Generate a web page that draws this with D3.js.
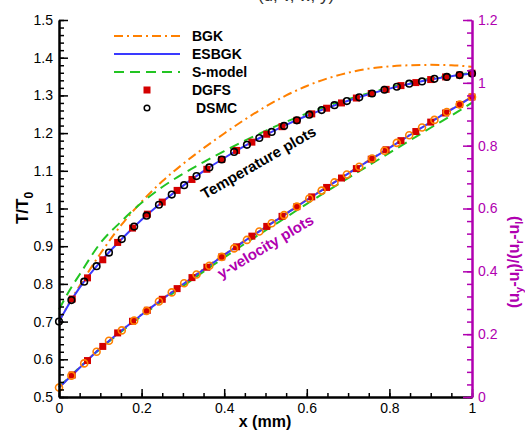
<!DOCTYPE html>
<html><head><meta charset="utf-8">
<script src="https://cdn.jsdelivr.net/npm/d3@7"></script>
<style>
body{margin:0;background:#fff;}
svg{font-family:"Liberation Sans",Arial,sans-serif;}
</style></head>
<body><svg id="c" width="525" height="432"></svg>
<script>
// ---------- data ----------
const lineX = [0,0.025,0.05,0.1,0.15,0.2,0.25,0.3,0.35,0.4,0.45,0.5,0.55,0.6,0.65,0.7,0.75,0.8,0.85,0.9,0.95,1.0];
const tempBGK   = [0.700,0.750,0.795,0.880,0.955,1.018,1.072,1.118,1.160,1.199,1.236,1.270,1.300,1.325,1.345,1.360,1.371,1.377,1.380,1.381,1.380,1.376];
const tempESBGK = [0.700,0.748,0.790,0.858,0.917,0.970,1.017,1.060,1.099,1.134,1.166,1.195,1.222,1.246,1.267,1.286,1.303,1.318,1.331,1.342,1.351,1.358];
const tempS     = [0.732,0.782,0.825,0.908,0.965,1.015,1.057,1.092,1.123,1.152,1.180,1.206,1.230,1.252,1.272,1.290,1.306,1.321,1.334,1.345,1.353,1.360];
const velBGK    = [0.031,0.062,0.094,0.156,0.211,0.263,0.312,0.360,0.407,0.453,0.498,0.541,0.584,0.628,0.670,0.712,0.753,0.794,0.835,0.876,0.916,0.956];
const velESBGK  = [0.030,0.061,0.093,0.155,0.210,0.262,0.311,0.359,0.406,0.452,0.497,0.540,0.583,0.627,0.669,0.711,0.752,0.793,0.834,0.875,0.915,0.955];
const velS      = [0.032,0.063,0.094,0.154,0.207,0.258,0.306,0.353,0.399,0.444,0.488,0.530,0.572,0.615,0.656,0.697,0.737,0.777,0.817,0.857,0.896,0.937];

const dsmcX = [0,0.03,0.061,0.091,0.121,0.152,0.182,0.212,0.242,0.273,0.303,0.333,0.364,0.394,0.424,0.455,0.485,0.515,0.545,0.576,0.606,0.636,0.667,0.697,0.727,0.758,0.788,0.818,0.848,0.879,0.909,0.939,0.97,1.0];
const dsmcT = [0.700,0.757,0.806,0.847,0.883,0.919,0.952,0.981,1.010,1.037,1.062,1.086,1.109,1.130,1.150,1.169,1.187,1.203,1.219,1.234,1.249,1.261,1.274,1.285,1.295,1.305,1.315,1.323,1.331,1.337,1.344,1.349,1.354,1.358];
const dsmcV = [0.030,0.068,0.107,0.144,0.179,0.212,0.243,0.274,0.304,0.333,0.362,0.390,0.418,0.446,0.473,0.500,0.527,0.553,0.579,0.606,0.632,0.657,0.683,0.708,0.733,0.759,0.784,0.809,0.833,0.858,0.882,0.907,0.931,0.955];

const dgfsX = [0.032,0.069,0.106,0.142,0.178,0.214,0.25,0.286,0.322,0.358,0.394,0.43,0.467,0.503,0.54,0.576,0.612,0.648,0.684,0.72,0.756,0.792,0.828,0.864,0.9,0.936,0.97,1.0];
const dgfsT = [0.760,0.816,0.864,0.910,0.948,0.985,1.017,1.048,1.077,1.104,1.130,1.154,1.176,1.197,1.217,1.234,1.251,1.266,1.280,1.293,1.305,1.316,1.326,1.334,1.342,1.349,1.354,1.359];
const dgfsV = [0.070,0.116,0.161,0.204,0.241,0.276,0.311,0.345,0.380,0.413,0.446,0.478,0.512,0.543,0.575,0.606,0.637,0.667,0.697,0.727,0.757,0.787,0.816,0.845,0.875,0.904,0.931,0.955];

const xTicks = [0,0.2,0.4,0.6,0.8,1];
const xTickLabels = ["0","0.2","0.4","0.6","0.8","1"];
const yTicks = [0.5,0.6,0.7,0.8,0.9,1.0,1.1,1.2,1.3,1.4,1.5];
const yTickLabels = ["0.5","0.6","0.7","0.8","0.9","1","1.1","1.2","1.3","1.4","1.5"];
const y2Ticks = [0,0.2,0.4,0.6,0.8,1.0,1.2];
const y2TickLabels = ["0","0.2","0.4","0.6","0.8","1","1.2"];
const legendLabels = ["BGK","ESBGK","S-model","DGFS","DSMC"];

// ---------- styles ----------
const C = {bgk:"#ff8000", es:"#3a3aff", s:"#22c422", red:"#d40000", mag:"#b000b0"};
const L = 59, R = 472, T = 20, B = 397;

const svg = d3.select("#c");
const x = d3.scaleLinear().domain([0,1]).range([L,R]);
const y = d3.scaleLinear().domain([0.5,1.5]).range([B,T]);
const y2 = d3.scaleLinear().domain([0,1.2]).range([B,T]);

// title remnant (cut off at top in the reference)
svg.append("text").attr("x",296).attr("y",1).attr("text-anchor","middle")
  .attr("font-size",17).attr("fill","#333").text("(u, v, w, y)");

// ---------- curves ----------
function drawLine(xs, ys, scale, color, dash){
  const data = xs.map((d,i)=>[d,ys[i]]);
  svg.append("path").datum(data)
    .attr("d", d3.line().x(d=>x(d[0])).y(d=>scale(d[1])).curve(d3.curveMonotoneX))
    .attr("fill","none").attr("stroke",color).attr("stroke-width",2)
    .attr("stroke-dasharray",dash||null);
}
const dashDot = "9,4,2,4", dashed = "10,6";
drawLine(lineX, velBGK, y2, C.bgk, dashDot);
drawLine(lineX, velS, y2, C.s, dashed);
drawLine(lineX, velESBGK, y2, C.es, null);
drawLine(lineX, tempBGK, y, C.bgk, dashDot);
drawLine(lineX, tempS, y, C.s, dashed);
drawLine(lineX, tempESBGK, y, C.es, null);

// ---------- markers ----------
const sq = 7;
svg.append("g").selectAll("rect").data(dgfsX.map((d,i)=>[d,dgfsV[i]])).join("rect")
  .attr("x",d=>x(d[0])-sq/2).attr("y",d=>y2(d[1])-sq/2).attr("width",sq).attr("height",sq).attr("fill",C.red);
svg.append("g").selectAll("circle").data(dsmcX.map((d,i)=>[d,dsmcV[i]])).join("circle")
  .attr("cx",d=>x(d[0])).attr("cy",d=>y2(d[1])).attr("r",3.5)
  .attr("fill","none").attr("stroke",C.bgk).attr("stroke-width",1.6);
svg.append("g").selectAll("rect").data(dgfsX.map((d,i)=>[d,dgfsT[i]])).join("rect")
  .attr("x",d=>x(d[0])-sq/2).attr("y",d=>y(d[1])-sq/2).attr("width",sq).attr("height",sq).attr("fill",C.red);
svg.append("g").selectAll("circle").data(dsmcX.map((d,i)=>[d,dsmcT[i]])).join("circle")
  .attr("cx",d=>x(d[0])).attr("cy",d=>y(d[1])).attr("r",3.3)
  .attr("fill","none").attr("stroke","#000").attr("stroke-width",1.6);

// ---------- axes ----------
function styleAxis(g, color, width){
  g.select(".domain").attr("stroke",color).attr("stroke-width",width);
  g.selectAll(".tick line").attr("stroke",color).attr("stroke-width",1.5);
  g.selectAll(".tick text").attr("fill",color).attr("font-size",14);
}
const xMinor = d3.range(0,1.0001,0.05);
const yMinor = d3.range(0.5,1.5001,0.02);
const y2Minor = d3.range(0,1.2001,0.04);

const gxm = svg.append("g").attr("transform",`translate(0,${B})`)
  .call(d3.axisBottom(x).tickValues(xMinor).tickSize(-4).tickFormat("").tickSizeOuter(0));
styleAxis(gxm,"#000",2);
const gx = svg.append("g").attr("transform",`translate(0,${B})`)
  .call(d3.axisBottom(x).tickValues(xTicks).tickSize(-8).tickPadding(6).tickSizeOuter(0)
    .tickFormat((d,i)=>xTickLabels[i]));
styleAxis(gx,"#000",2);

const gym = svg.append("g").attr("transform",`translate(${L},0)`)
  .call(d3.axisLeft(y).tickValues(yMinor).tickSize(-5).tickFormat("").tickSizeOuter(0));
styleAxis(gym,"#000",2);
const gy = svg.append("g").attr("transform",`translate(${L},0)`)
  .call(d3.axisLeft(y).tickValues(yTicks).tickSize(-9).tickPadding(6).tickSizeOuter(0)
    .tickFormat((d,i)=>yTickLabels[i]));
styleAxis(gy,"#000",2);

const gy2m = svg.append("g").attr("transform",`translate(${R},0)`)
  .call(d3.axisRight(y2).tickValues(y2Minor).tickSize(-5).tickFormat("").tickSizeOuter(0));
styleAxis(gy2m,C.mag,2);
const gy2 = svg.append("g").attr("transform",`translate(${R},0)`)
  .call(d3.axisRight(y2).tickValues(y2Ticks).tickSize(-9).tickPadding(6).tickSizeOuter(0)
    .tickFormat((d,i)=>y2TickLabels[i]));
styleAxis(gy2,C.mag,2);

// ---------- axis titles ----------
svg.append("text").attr("x",265).attr("y",427).attr("text-anchor","middle")
  .attr("font-size",16).attr("font-weight","bold").text("x (mm)");
const yl = svg.append("text").attr("transform","translate(28,208) rotate(-90)")
  .attr("text-anchor","middle").attr("font-size",17).attr("font-weight","bold");
yl.append("tspan").text("T/T");
yl.append("tspan").attr("font-size",12).attr("dy",5).text("0");

const y2l = svg.append("text").attr("transform","translate(519,262) rotate(-90)")
  .attr("text-anchor","middle").attr("font-size",16).attr("font-weight","bold").attr("fill",C.mag);
y2l.append("tspan").text("(u");
y2l.append("tspan").attr("font-size",11).attr("dy",4).text("y");
y2l.append("tspan").attr("dy",-4).text("-u");
y2l.append("tspan").attr("font-size",11).attr("dy",4).text("l");
y2l.append("tspan").attr("dy",-4).text(")/(u");
y2l.append("tspan").attr("font-size",11).attr("dy",4).text("r");
y2l.append("tspan").attr("dy",-4).text("-u");
y2l.append("tspan").attr("font-size",11).attr("dy",4).text("l");
y2l.append("tspan").attr("dy",-4).text(")");

// ---------- annotations ----------
svg.append("text").attr("transform","translate(261,167) rotate(-30)")
  .attr("text-anchor","middle").attr("font-size",15).attr("font-weight","bold").text("Temperature plots");
svg.append("text").attr("transform","translate(268,251) rotate(-31)")
  .attr("text-anchor","middle").attr("font-size",15).attr("font-weight","bold").attr("fill",C.mag).text("y-velocity plots");

// ---------- legend ----------
const lg = svg.append("g");
const rowsY = [36,54,72,90,108];
const lx0 = 114, lx1 = 180, tx = 192;
[[C.bgk,dashDot],[C.es,null],[C.s,dashed]].forEach((s,i)=>{
  lg.append("line").attr("x1",lx0).attr("x2",lx1).attr("y1",rowsY[i]).attr("y2",rowsY[i])
    .attr("stroke",s[0]).attr("stroke-width",2).attr("stroke-dasharray",s[1]);
});
lg.append("rect").attr("x",147-3.5).attr("y",rowsY[3]-3.5).attr("width",7).attr("height",7).attr("fill",C.red);
lg.append("circle").attr("cx",147).attr("cy",rowsY[4]).attr("r",2.8).attr("fill","none").attr("stroke","#000").attr("stroke-width",1.5);
legendLabels.forEach((t,i)=>{
  lg.append("text").attr("x", i===4 ? tx+4 : tx).attr("y",rowsY[i]+5)
    .attr("font-size",14).attr("font-weight","bold").text(t);
});
</script></body></html>
